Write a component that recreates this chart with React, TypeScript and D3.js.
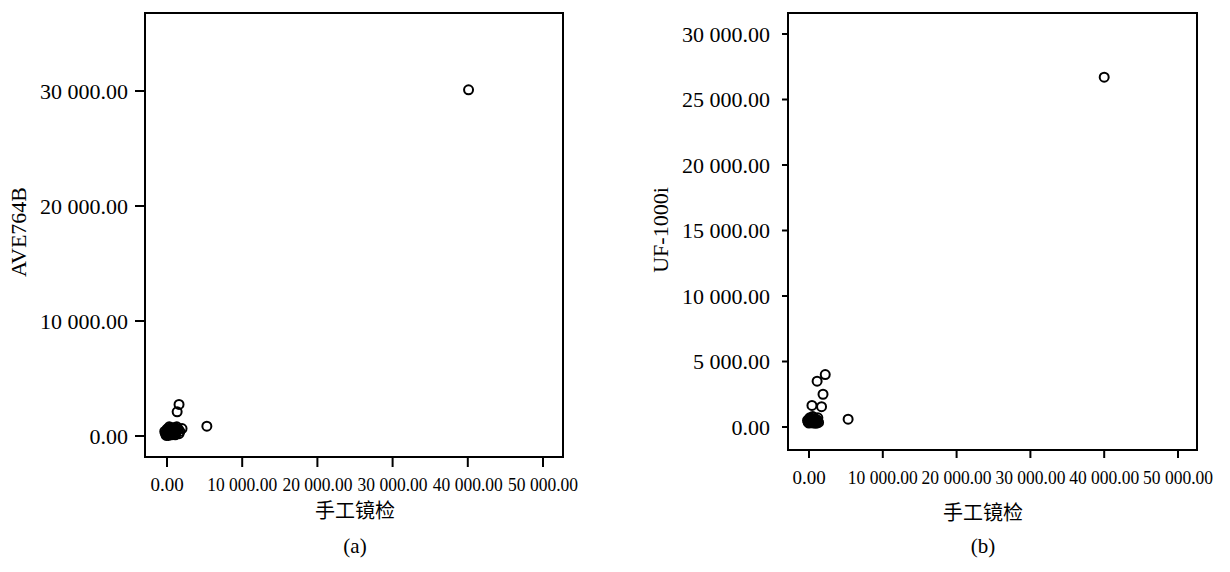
import React from "react";
import * as d3 from "d3";

// Panel (a): manual microscopy vs AVE764B
const manualA = [40100, 5300, 1600, 1350, 2000, 0, 100, 200, 300, 500, 800, -200, -300, 400, 700, 1000, 1200, 1500, 600, 900, 200, 0, 1300, 1700, 300, -100, 1100, 50, 600, 1600, 150, 450, 750, 250, 950, 350, 550, -150, 850, 1050, 650, 1250];
const aveA = [30100, 850, 2750, 2100, 650, 100, 200, 50, 300, 150, 400, 200, 400, 600, 700, 500, 300, 600, 100, 200, 450, 600, 800, 400, 800, 50, 100, 350, 500, 200, 250, 350, 250, 650, 600, 150, 700, 300, 550, 750, 300, 500];

// Panel (b): manual microscopy vs UF-1000i
const manualB = [40000, 5300, 1100, 2200, 1900, 400, 1700, 0, 200, 400, 600, 800, 1000, 1200, -200, 100, 500, 900, 300, 700, 1100, 0, 1300, 400, -100, 600, 800, 150, 350, 550, 750, 950, 250, 650, 1050];
const ufB = [26700, 600, 3500, 4000, 2500, 1650, 1550, 300, 400, 500, 300, 600, 400, 700, 500, 700, 800, 300, 350, 450, 550, 600, 350, 650, 350, 750, 350, 450, 600, 400, 500, 450, 550, 350, 300];

const xTicks = [0, 10000, 20000, 30000, 40000, 50000];
const yTicksA = [0, 10000, 20000, 30000];
const yTicksB = [0, 5000, 10000, 15000, 20000, 25000, 30000];

const fmt = (v: number) => d3.format(",.2f")(v).replace(/,/g, " ");

type PanelProps = {
  xs: number[];
  ys: number[];
  yTicks: number[];
  frame: { l: number; r: number; t: number; b: number };
  xRange: [number, number];
  yRange: [number, number];
  yTickLen: number;
  xTickLen: number;
  yLabelRight: number;
  xLabelBase: number;
  yTitle: string;
  yTitleX: number;
  yTitleY: number;
  xTitleX: number;
  xTitleY: number;
  tag: string;
  tagY: number;
};

function Panel(p: PanelProps) {
  const x = d3.scaleLinear().domain([0, 50000]).range(p.xRange);
  const y = d3.scaleLinear().domain([0, 30000]).range(p.yRange);
  const { l, r, t, b } = p.frame;
  const serif = "'Liberation Serif', 'DejaVu Serif', serif";
  return (
    <g>
      <rect x={l} y={t} width={r - l} height={b - t} fill="none" stroke="#000" strokeWidth={2} />
      {p.yTicks.map((v) => (
        <g key={"y" + v}>
          <line x1={l - p.yTickLen} x2={l} y1={y(v)} y2={y(v)} stroke="#000" strokeWidth={2} />
          <text x={p.yLabelRight} y={y(v)} dy="0.35em" textAnchor="end" fontFamily={serif} fontSize={22} fill="#000">
            {fmt(v)}
          </text>
        </g>
      ))}
      {xTicks.map((v) => (
        <g key={"x" + v}>
          <line x1={x(v)} x2={x(v)} y1={b} y2={b + p.xTickLen} stroke="#000" strokeWidth={2} />
          <text
            x={x(v)}
            y={p.xLabelBase}
            textAnchor="middle"
            fontFamily={serif}
            fontSize={19}
            fill="#000"
            {...(v >= 10000 ? { textLength: 70, lengthAdjust: "spacingAndGlyphs" } : {})}
          >
            {fmt(v)}
          </text>
        </g>
      ))}
      {p.xs.map((xv, i) => (
        <circle key={i} cx={x(xv)} cy={y(p.ys[i])} r={4.5} fill="none" stroke="#000" strokeWidth={2} />
      ))}
      <text
        transform={`translate(${p.yTitleX},${p.yTitleY}) rotate(-90)`}
        textAnchor="middle"
        dy="0.35em"
        fontFamily={serif}
        fontSize={22}
        fill="#000"
      >
        {p.yTitle}
      </text>
      <text x={p.xTitleX} y={p.xTitleY} dy="0.35em" textAnchor="middle" fontFamily="'Noto Sans CJK SC', sans-serif" fontSize={20} fill="#000">
        手工镜检
      </text>
      <text x={p.xTitleX} y={p.tagY} dy="0.35em" textAnchor="middle" fontFamily={serif} fontSize={21} fill="#000">
        {p.tag}
      </text>
    </g>
  );
}

export default function App() {
  return (
    <svg width={1230} height={572} style={{ position: "absolute", left: 0, top: 0, background: "#fff" }}>
      <rect width={1230} height={572} fill="#fff" />
      <Panel
        xs={manualA}
        ys={aveA}
        yTicks={yTicksA}
        frame={{ l: 145, r: 563, t: 13, b: 457 }}
        xRange={[167, 543]}
        yRange={[436, 91]}
        yTickLen={10}
        xTickLen={10}
        yLabelRight={128}
        xLabelBase={491}
        yTitle="AVE764B"
        yTitleX={18}
        yTitleY={232}
        xTitleX={355}
        xTitleY={511}
        tag="(a)"
        tagY={546}
      />
      <Panel
        xs={manualB}
        ys={ufB}
        yTicks={yTicksB}
        frame={{ l: 788, r: 1197, t: 13, b: 450 }}
        xRange={[809, 1178]}
        yRange={[427, 34]}
        yTickLen={6}
        xTickLen={8}
        yLabelRight={770}
        xLabelBase={484}
        yTitle="UF-1000i"
        yTitleX={660}
        yTitleY={230}
        xTitleX={983}
        xTitleY={513}
        tag="(b)"
        tagY={546}
      />
    </svg>
  );
}
